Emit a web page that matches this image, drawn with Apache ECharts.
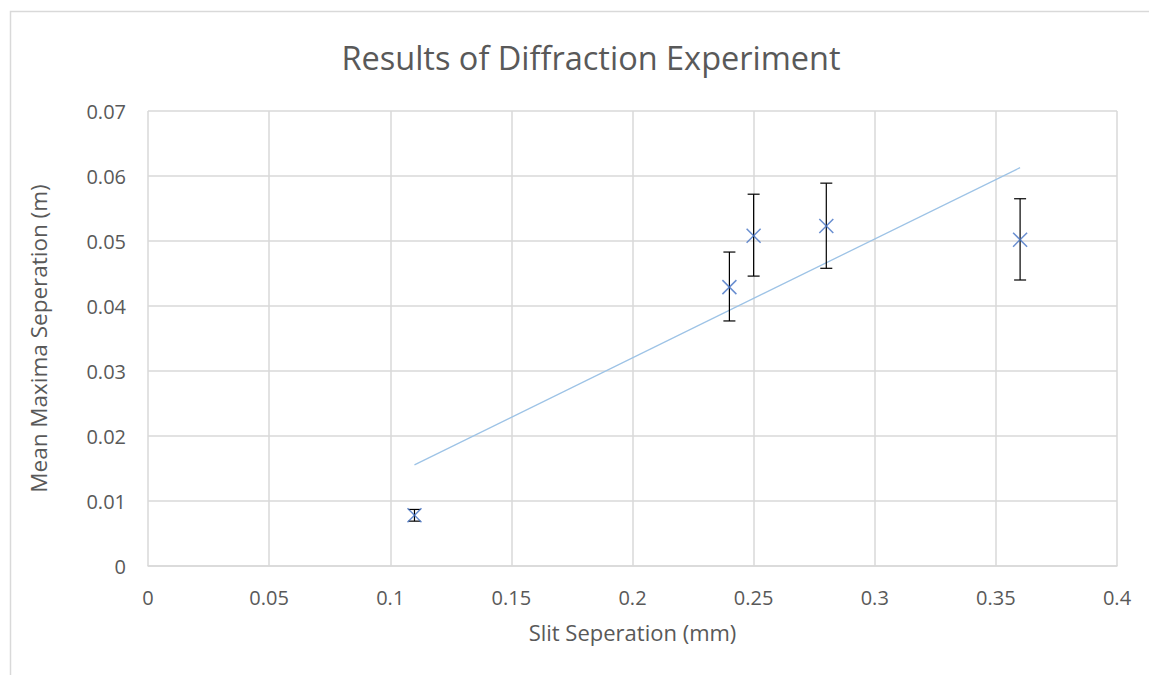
<!DOCTYPE html>
<html>
<head>
<meta charset="utf-8">
<script src="https://cdn.jsdelivr.net/npm/echarts@6/dist/echarts.min.js"></script>
<style>
  html, body { margin: 0; padding: 0; background: #fff; }
  #chart { width: 1149px; height: 675px; }
</style>
</head>
<body>
<div id="chart"></div>
<script>
// Readings taken off the reference chart
const slitSep   = [0.11, 0.24, 0.25, 0.28, 0.36];          // mm
const meanMax   = [0.0078, 0.0429, 0.0508, 0.0523, 0.0502]; // m
const errLow    = [0.0069, 0.0377, 0.0446, 0.0458, 0.0440];
const errHigh   = [0.0087, 0.0483, 0.0572, 0.0589, 0.0565];

const FONT = "'Open Sans', 'Noto Sans', sans-serif";
const GREY = '#595959';
const GRID = '#d9d9d9';

// Linear trendline (least squares), drawn over the data range like Excel does
function linearFit(xs, ys) {
  const n = xs.length;
  const mx = xs.reduce((a, b) => a + b, 0) / n;
  const my = ys.reduce((a, b) => a + b, 0) / n;
  let sxy = 0, sxx = 0;
  for (let i = 0; i < n; i++) {
    sxy += (xs[i] - mx) * (ys[i] - my);
    sxx += (xs[i] - mx) * (xs[i] - mx);
  }
  const m = sxy / sxx;
  return x => my + m * (x - mx);
}
const fit = linearFit(slitSep, meanMax);
const xMin = Math.min(...slitSep), xMax = Math.max(...slitSep);
const trend = [[xMin, fit(xMin)], [xMax, fit(xMax)]];

const chart = echarts.init(document.getElementById('chart'), null, { renderer: 'svg' });

chart.setOption({
  animation: false,
  backgroundColor: '#fff',
  title: {
    text: 'Results of Diffraction Experiment',
    left: 586, top: 36, textAlign: 'center',
    textStyle: { fontFamily: FONT, fontSize: 32.5, fontWeight: 'normal', color: GREY }
  },
  graphic: [{
    type: 'rect',
    shape: { x: 10.5, y: 11.5, width: 1300, height: 800 },
    style: { fill: 'none', stroke: GRID, lineWidth: 1.5 },
    silent: true
  }],
  grid: { left: 148, right: 32, top: 111, bottom: 109 },
  xAxis: {
    type: 'value', min: 0, max: 0.4, interval: 0.05,
    name: 'Slit Seperation (mm)', nameLocation: 'middle', nameGap: 55,
    nameTextStyle: { fontFamily: FONT, fontSize: 22, color: GREY },
    axisLine: { show: true, lineStyle: { color: GRID, width: 1.5 } },
    axisTick: { show: false },
    axisLabel: { fontFamily: FONT, fontSize: 20, color: GREY, margin: 21 },
    splitLine: { show: true, lineStyle: { color: GRID, width: 1.5 } }
  },
  yAxis: {
    type: 'value', min: 0, max: 0.07, interval: 0.01,
    name: 'Mean Maxima Seperation (m)', nameLocation: 'middle', nameGap: 98,
    nameTextStyle: { fontFamily: FONT, fontSize: 22.5, color: GREY },
    axisLine: { show: false },
    axisTick: { show: false },
    axisLabel: { fontFamily: FONT, fontSize: 20, color: GREY, margin: 22 },
    splitLine: { show: true, lineStyle: { color: GRID, width: 1.5 } }
  },
  series: [
    {
      type: 'line',
      data: trend,
      showSymbol: false,
      lineStyle: { color: '#9dc3e6', width: 1.3 },
      z: 2
    },
    {
      type: 'custom',
      data: slitSep.map((x, i) => [x, errLow[i], errHigh[i]]),
      renderItem: (params, api) => {
        const lo = api.coord([api.value(0), api.value(1)]);
        const hi = api.coord([api.value(0), api.value(2)]);
        const cap = 6;
        const style = { stroke: '#000', lineWidth: 1.2 };
        return {
          type: 'group',
          children: [
            { type: 'line', shape: { x1: lo[0], y1: lo[1], x2: hi[0], y2: hi[1] }, style },
            { type: 'line', shape: { x1: lo[0] - cap, y1: lo[1], x2: lo[0] + cap, y2: lo[1] }, style },
            { type: 'line', shape: { x1: hi[0] - cap, y1: hi[1], x2: hi[0] + cap, y2: hi[1] }, style }
          ]
        };
      },
      z: 3
    },
    {
      type: 'scatter',
      data: slitSep.map((x, i) => [x, meanMax[i]]),
      symbol: 'path://M0,0L10,10M10,0L0,10',
      symbolSize: 14,
      itemStyle: { color: 'none', borderColor: '#4472c4', borderWidth: 1.5 },
      z: 4
    }
  ]
});
</script>
</body>
</html>
